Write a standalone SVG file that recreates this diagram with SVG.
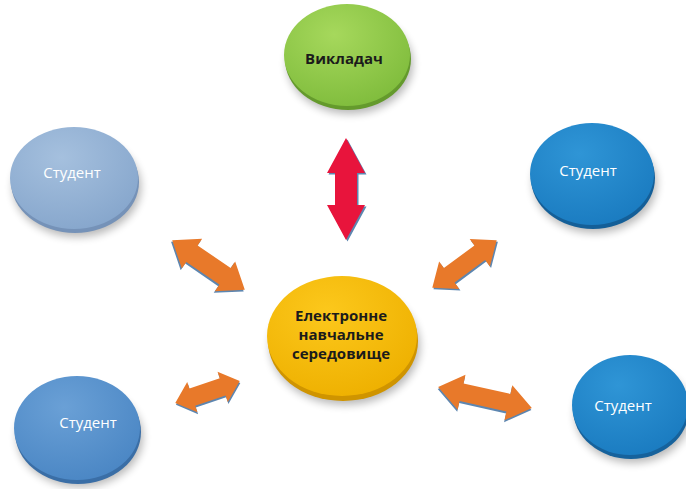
<svg xmlns="http://www.w3.org/2000/svg" width="686" height="489" viewBox="0 0 686 489">
<defs>
<filter id="sh" x="-30%" y="-30%" width="160%" height="160%"><feGaussianBlur stdDeviation="4"/></filter>
<radialGradient id="gGreen" cx="40%" cy="30%" r="75%"><stop offset="0" stop-color="#a6d85c"/><stop offset="1" stop-color="#7fbc3c"/></radialGradient>
<radialGradient id="gLight" cx="40%" cy="30%" r="75%"><stop offset="0" stop-color="#a5c0de"/><stop offset="1" stop-color="#86a6cc"/></radialGradient>
<radialGradient id="gBlue" cx="40%" cy="30%" r="75%"><stop offset="0" stop-color="#2f95d6"/><stop offset="1" stop-color="#1a7bc0"/></radialGradient>
<radialGradient id="gMid" cx="40%" cy="30%" r="75%"><stop offset="0" stop-color="#6aa0d6"/><stop offset="1" stop-color="#4a86c4"/></radialGradient>
<radialGradient id="gYel" cx="40%" cy="30%" r="75%"><stop offset="0" stop-color="#fcc81c"/><stop offset="1" stop-color="#eeb000"/></radialGradient>
</defs>
<style>
.shadow{fill:#000;opacity:0.28;filter:url(#sh)}
.lbl{font-family:"Open Sans","Noto Sans","Liberation Sans",sans-serif;font-size:15px;text-anchor:middle;dominant-baseline:central}
.w{fill:#ffffff}
.d{fill:#1b1b1b;font-weight:bold}
.edge{fill:#5d86b0}
.red{fill:#e8143c}
.org{fill:#e8792a}
</style>

<g id="connectors">
  <g transform="translate(346,189) rotate(90)">
    <polygon class="edge" transform="translate(1.5,-1.5)" points="-51,0 -16,-19 -16,-11 16,-11 16,-19 51,0 16,19 16,11 -16,11 -16,19"/>
    <polygon class="red" points="-51,0 -16,-19 -16,-11 16,-11 16,-19 51,0 16,19 16,11 -16,11 -16,19"/>
  </g>
  <g transform="translate(208.5,265) rotate(34.4)">
    <polygon class="edge" transform="translate(0,2)" points="-44,0 -20,-18 -20,-10 20,-10 20,-18 44,0 20,18 20,10 -20,10 -20,18"/>
    <polygon class="org" points="-44,0 -20,-18 -20,-10 20,-10 20,-18 44,0 20,18 20,10 -20,10 -20,18"/>
  </g>
  <g transform="translate(464.5,264) rotate(-36.4)">
    <polygon class="edge" transform="translate(0,2)" points="-40,0 -19,-17 -19,-9 19,-9 19,-17 40,0 19,17 19,9 -19,9 -19,17"/>
    <polygon class="org" points="-40,0 -19,-17 -19,-9 19,-9 19,-17 40,0 19,17 19,9 -19,9 -19,17"/>
  </g>
  <g transform="translate(207.5,392) rotate(-18.7)">
    <polygon class="edge" transform="translate(0,2)" points="-34,0 -16,-16 -16,-9 16,-9 16,-16 34,0 16,16 16,9 -16,9 -16,16"/>
    <polygon class="org" points="-34,0 -16,-16 -16,-9 16,-9 16,-16 34,0 16,16 16,9 -16,9 -16,16"/>
  </g>
  <g transform="translate(485,397.5) rotate(12.6)">
    <polygon class="edge" transform="translate(0,2)" points="-48,0 -24,-18 -24,-9 24,-9 24,-18 48,0 24,18 24,9 -24,9 -24,18"/>
    <polygon class="org" points="-48,0 -24,-18 -24,-9 24,-9 24,-18 48,0 24,18 24,9 -24,9 -24,18"/>
  </g>
</g>

<g id="teacher">
  <ellipse class="shadow" cx="350" cy="64" rx="63" ry="50"/>
  <ellipse cx="348" cy="59" rx="63" ry="51" fill="#649a2c"/>
  <ellipse cx="347" cy="55" rx="63" ry="51" fill="url(#gGreen)"/>
  <text class="lbl d" x="344" y="58">Викладач</text>
</g>

<g id="student-tl">
  <ellipse class="shadow" cx="77" cy="187" rx="64" ry="50"/>
  <ellipse cx="75" cy="182" rx="64" ry="51" fill="#7592b8"/>
  <ellipse cx="74" cy="178" rx="64" ry="51" fill="url(#gLight)"/>
  <text class="lbl w" x="72" y="172">Студент</text>
</g>

<g id="student-tr">
  <ellipse class="shadow" cx="595" cy="183" rx="62" ry="50"/>
  <ellipse cx="593" cy="178" rx="62" ry="51" fill="#145f98"/>
  <ellipse cx="592" cy="174" rx="62" ry="51" fill="url(#gBlue)"/>
  <text class="lbl w" x="588" y="170">Студент</text>
</g>

<g id="environment">
  <ellipse class="shadow" cx="345" cy="346" rx="75" ry="59"/>
  <ellipse cx="343" cy="341" rx="75" ry="60" fill="#cf9400"/>
  <ellipse cx="342" cy="336" rx="75" ry="60" fill="url(#gYel)"/>
  <text class="lbl d" x="341" y="315">Електронне</text>
  <text class="lbl d" x="341" y="334">навчальне</text>
  <text class="lbl d" x="341" y="353">середовище</text>
</g>

<g id="student-bl">
  <ellipse class="shadow" cx="80" cy="437" rx="63" ry="50"/>
  <ellipse cx="78" cy="432" rx="63" ry="52" fill="#3a6ea6"/>
  <ellipse cx="77" cy="428" rx="63" ry="52" fill="url(#gMid)"/>
  <text class="lbl w" x="88" y="422">Студент</text>
</g>

<g id="student-br">
  <ellipse class="shadow" cx="633" cy="414" rx="58" ry="49"/>
  <ellipse cx="631" cy="409" rx="58" ry="50" fill="#16629c"/>
  <ellipse cx="630" cy="405" rx="58" ry="50" fill="url(#gBlue)"/>
  <text class="lbl w" x="623" y="405">Студент</text>
</g>
</svg>
